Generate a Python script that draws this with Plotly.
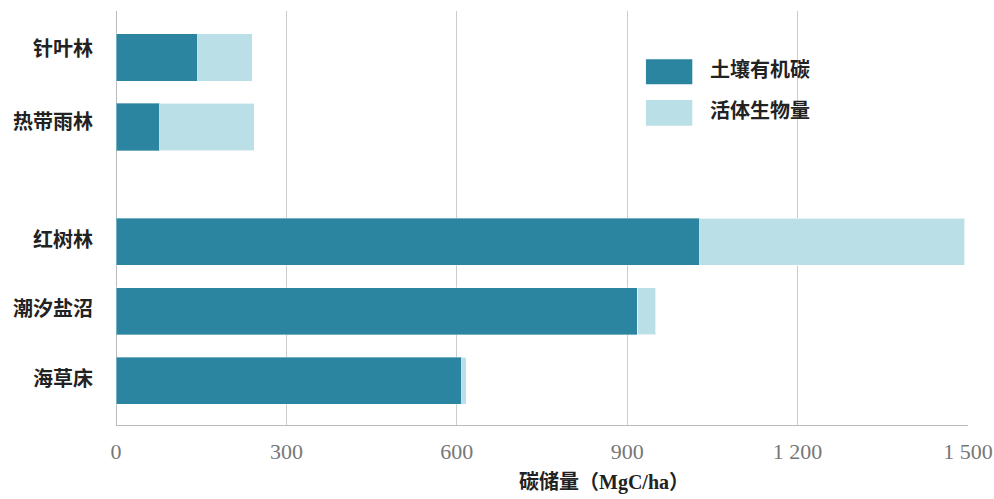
import plotly.graph_objects as go

# Ecosystem carbon stocks (MgC/ha)
ecosystems = ["针叶林", "热带雨林", "红树林", "潮汐盐沼", "海草床"]
row_pos = [0, 1, 2.65, 3.65, 4.65]              # bar slots, gap between forest and coastal groups
label_pos = [-0.12, 0.935, 2.62, 3.62, 4.63]    # category label slots
soil_carbon = [144, 77, 1028, 918, 609]
living_biomass = [96, 166, 466, 32, 8]
series_names = ["土壤有机碳", "活体生物量"]
x_ticks = [0, 300, 600, 900, 1200, 1500]

dark = "#2B84A0"
light = "#BBDFE6"
serif = "Liberation Serif, Noto Sans CJK SC, serif"

fig = go.Figure()
fig.add_trace(go.Bar(
    y=row_pos, x=soil_carbon, orientation="h", name=series_names[0],
    marker=dict(color=dark, line=dict(color="rgba(255,255,255,0.35)", width=1)),
    width=0.68, showlegend=False,
))
fig.add_trace(go.Bar(
    y=row_pos, x=living_biomass, orientation="h", name=series_names[1],
    marker=dict(color=light, line=dict(color="rgba(255,255,255,0.6)", width=1)),
    width=0.68, showlegend=False,
))

# Custom legend with large swatches
legend_items = [(series_names[0], dark, 0.8833, 0.8229, 0.858),
                (series_names[1], light, 0.785, 0.723, 0.759)]
for label, color, y_top, y_bot, y_txt in legend_items:
    fig.add_shape(type="rect", xref="paper", yref="paper",
                  x0=0.622, x1=0.6764, y0=y_bot, y1=y_top,
                  fillcolor=color, line=dict(width=0), layer="above")
    fig.add_annotation(x=0.695, y=y_txt, xref="paper", yref="paper",
                       text=f"<b>{label}</b>", showarrow=False,
                       xanchor="left", yanchor="middle",
                       font=dict(family=serif, size=20, color="#222222"))

# Axis title placed below the tick labels
fig.add_annotation(x=0.573, y=-0.138, xref="paper", yref="paper",
                   text="<b>碳储量（MgC/ha）</b>", showarrow=False,
                   xanchor="center", yanchor="middle",
                   font=dict(family=serif, size=20, color="#222222"))

fig.update_layout(
    barmode="stack",
    width=994, height=499,
    margin=dict(l=116, r=26, t=11, b=74, autoexpand=False),
    paper_bgcolor="white", plot_bgcolor="white",
    separators=". ",
    font=dict(family=serif),
    xaxis=dict(
        range=[0, 1500], tickvals=x_ticks, tickformat=",d", separatethousands=True,
        automargin=False,
        showgrid=True, gridcolor="#cccccc", gridwidth=1,
        zeroline=True, zerolinecolor="#bbbbbb", zerolinewidth=1,
        showline=True, linecolor="#bbbbbb", linewidth=1,
        ticks="outside", ticklen=7, tickcolor="rgba(0,0,0,0)",
        tickfont=dict(family=serif, size=22, color="#777777"),
    ),
    yaxis=dict(
        range=[5.288, -0.669], tickvals=label_pos,
        ticktext=[f"<b>{e}</b>" for e in ecosystems],
        automargin=False,
        showgrid=False, zeroline=False, showline=False,
        ticks="outside", ticklen=18, tickcolor="rgba(0,0,0,0)",
        tickfont=dict(family=serif, size=20, color="#222222"),
    ),
)

fig.write_html("out.html")
